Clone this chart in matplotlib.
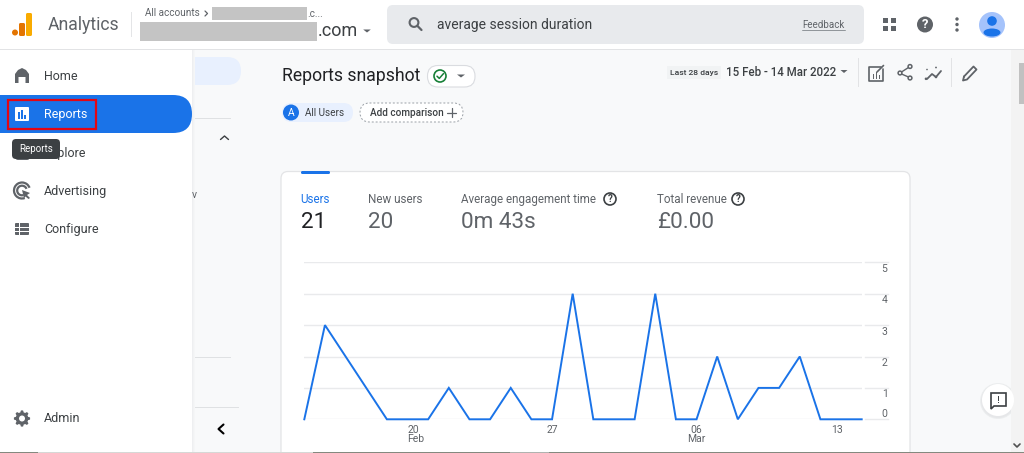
"""
Analytics "Reports snapshot" screen: the users line chart and the page around it.
"""

import numpy as np
import matplotlib
matplotlib.use("Agg")
import matplotlib.pyplot as plt
import matplotlib.patches as pt
from matplotlib.transforms import ScaledTranslation

plt.rcParams['font.family'] = ['Roboto', 'DejaVu Sans']

# chart data
dates = np.arange('2022-02-15', '2022-03-15', dtype='datetime64[D]')
users = [0, 3, 2, 1, 0, 0, 0, 1, 0, 0, 1, 0, 0, 4,
         0, 0, 0, 4, 0, 0, 2, 0, 1, 1, 2, 0, 0, 0]
y_ticks = [0, 1, 2, 3, 4, 5]
x_tick_dates = ['2022-02-20', '2022-02-27', '2022-03-06', '2022-03-13']
x_tick_labels = ['20\nFeb', '27', '06\nMar', '13']

# summary row above the chart
metric_names = ['Users', 'New users', 'Average engagement time', 'Total revenue']
metric_values = ['21', '20', '0m 43s', '£0.00']
metric_x = [300.5, 368, 461, 657]

# side menu
menu_names = ['Home', 'Reports', 'Explore', 'Advertising', 'Configure', 'Admin']
menu_y = [76, 114.5, 153, 191.5, 229.5, 419]

BLUE = '#1a73e8'
GREY = '#5f6368'
DARK = '#3c4043'
LINE = '#e9eaec'

fig = plt.figure(figsize=(10.24, 4.53), dpi=100, facecolor='#f8f9fa')

# one axes in screen pixels for all of the page furniture
ui = fig.add_axes([0, 0, 1, 1], zorder=0)
ui.set_xlim(0, 1024)
ui.set_ylim(453, 0)
ui.axis('off')


def box(x0, y0, x1, y1, color, radius=0, edge='none', lw=0, z=1, ls='-'):
    if radius > 0:
        p = pt.FancyBboxPatch((x0, y0), x1 - x0, y1 - y0,
                              boxstyle='round,pad=0,rounding_size=%s' % radius,
                              facecolor=color, edgecolor=edge, linewidth=lw, zorder=z, linestyle=ls)
    else:
        p = pt.Rectangle((x0, y0), x1 - x0, y1 - y0, facecolor=color, edgecolor=edge,
                         linewidth=lw, zorder=z, linestyle=ls)
    ui.add_patch(p)
    return p


def txt(x, y, s, size, color=DARK, ha='left', z=5, **kw):
    return ui.text(x, y, s, fontsize=size, color=color, ha=ha, va='center', zorder=z, **kw)


def seg(xs, ys, color=GREY, lw=1.0, z=4, **kw):
    ui.plot(xs, ys, color=color, lw=lw, zorder=z, solid_capstyle='round', **kw)


def circle(x, y, r, color, edge='none', lw=0, z=4):
    ui.add_patch(pt.Circle((x, y), r, facecolor=color, edgecolor=edge, linewidth=lw, zorder=z))


def tri(x, y, w=4.0, h=3.5, color=GREY, z=4):
    ui.add_patch(pt.Polygon([(x - w, y - h / 2), (x + w, y - h / 2), (x, y + h / 2)],
                            facecolor=color, edgecolor='none', zorder=z))


def help_icon(x, y, r=6):
    circle(x, y, r, 'white', edge='#3c4043', lw=1.2)
    txt(x, y, '?', 7, color='#3c4043', ha='center', fontweight='bold')


# header
box(0, 0, 1024, 49, 'white', z=1)
box(0, 49, 1024, 50, '#e2e3e5', z=1)
box(19, 23, 25, 36, '#e37400', radius=1.5, z=3)
box(26, 13, 32, 36, '#f9ab00', radius=1.5, z=3)
circle(15, 32.5, 3, '#e37400')
txt(48, 25, 'Analytics', 12.7, color=GREY)
box(131, 12, 132, 37, '#e4e5e7', z=2)
txt(145, 13.5, 'All accounts', 7.2, color=GREY)
seg([205, 207.5, 205], [11, 13.5, 16], lw=0.9)
box(212, 7, 307, 20, '#c4c4c4', z=2)
txt(307.5, 14, '.c...', 7.2, color=GREY)
box(140, 22, 317, 41, '#c4c4c4', z=2)
txt(318, 31.5, '.com', 13.0, color=DARK)
tri(367, 31, w=3.8, h=3)

# search box
box(387, 5, 864, 44, '#e8eaed', radius=6, z=2)
ui.add_patch(pt.Circle((414, 22.5), 4.4, facecolor='none', edgecolor=GREY, linewidth=1.5, zorder=4))
seg([417.5, 421.5], [26, 30], lw=1.6)
txt(437, 24.5, 'average session duration', 10.0, color=DARK)
txt(802, 24.8, 'Feedback', 7.0, color=GREY)
seg([802, 845], [30, 30], lw=0.6, color='#80868b')

# header icons
for gx in (883, 891):
    for gy in (18, 26):
        box(gx, gy, gx + 5, gy + 5, GREY, z=4)
circle(925, 24.5, 8, GREY)
txt(925, 24.5, '?', 9.5, color='white', ha='center', fontweight='bold')
for dy in (19, 24.5, 30):
    circle(957, dy, 1.7, GREY)
circle(992, 25, 13, '#a5c3fb')
circle(992, 21, 4.8, BLUE)
ui.add_patch(pt.Ellipse((992, 32.5), 17, 8, facecolor=BLUE, edgecolor='none', zorder=5))

# content behind the menu
box(150, 57, 241, 85, '#e8f0fe', radius=14, z=1)
box(192, 118, 231, 118.7, '#dfe1e3', z=1)
box(192, 357, 231, 357.7, '#dfe1e3', z=1)
box(192, 407, 239, 407.7, '#dfe1e3', z=1)
seg([220.5, 224.5, 228.5], [139.5, 136, 139.5], color=DARK, lw=1.0)
txt(192, 195, 'v', 7.5, color=GREY)
seg([223.5, 218.5, 223.5], [424.5, 429, 433.5], color='black', lw=1.5)

# side menu
box(0, 50, 192, 453, 'white', z=2)
for i, c in enumerate(['#eeeff1', '#f2f3f4', '#f5f6f7']):
    box(192 + i, 50, 193 + i, 453, c, z=1.5)
box(-30, 95, 192, 133, BLUE, radius=19, z=3)
box(7.5, 99.5, 95.5, 129, 'none', edge='#e30613', lw=1.6, z=6)
for name, my in zip(menu_names, menu_y):
    txt(44, my, name, 9.0, color='white' if name == 'Reports' else DARK)

# menu icons
ui.add_patch(pt.Polygon([(15, 83), (15, 74), (18, 70), (22, 68), (26, 70), (29, 74), (29, 83), (25.5, 83),
                         (25.5, 77), (18.5, 77), (18.5, 83)], facecolor=GREY, edgecolor='none', zorder=4))
box(15, 107, 29, 121, 'white', radius=1, z=4)
for bx, bh in zip((18, 21, 24), (7, 9, 4)):
    box(bx, 118.5 - bh, bx + 1.8, 118.5, BLUE, z=5)
for r in (8, 4.8):
    ui.add_patch(pt.Arc((22, 190.5), 2 * r, 2 * r, angle=0, theta1=70, theta2=340, color=GREY, lw=1.6, zorder=4))
ui.add_patch(pt.Polygon([(22, 190), (30, 193), (27, 195), (30, 198), (28.5, 199), (25.5, 196.5), (24, 198)],
                        facecolor=GREY, edgecolor='none', zorder=5))
box(15, 223, 29, 235, GREY, radius=1, z=4)
for ly in (227, 231):
    box(15, ly, 29, ly + 1, 'white', z=5)
box(19, 223, 20, 235, 'white', z=5)
# gear
ang = np.linspace(0, 2 * np.pi, 97)
rad = 7.2 + 0.9 * np.clip(3 * np.cos(8 * ang), -1, 1)
ui.add_patch(pt.Polygon(np.c_[22 + rad * np.cos(ang), 418.5 + rad * np.sin(ang)],
                        facecolor=GREY, edgecolor='none', zorder=4))
circle(22, 418.5, 3, 'white', z=5)

# tooltip lying over the Explore row, it hides the start of the word
box(15, 146, 30, 160, GREY, radius=3, z=6)
box(12, 139, 60, 159, '#3c4043', radius=4, z=7)
txt(36, 149, 'Reports', 7.0, color='white', ha='center', z=8)

# page title row
txt(282, 76, 'Reports snapshot', 12.7, color='#202124')
box(427.5, 65.5, 475, 87, 'white', radius=10.5, edge='#dadce0', lw=0.8, z=2)
ui.add_patch(pt.Circle((440, 76), 6, facecolor='none', edgecolor='#188038', linewidth=1.2, zorder=4))
seg([437, 439.3, 443.5], [76.2, 78.4, 73.6], color='#188038', lw=1.1)
tri(461, 76, w=4, h=3)
box(282, 103, 353, 122, '#e8f0fe', radius=9.5, z=2)
circle(291, 112.5, 8, BLUE)
txt(291, 112.5, 'A', 7.5, color='white', ha='center')
txt(305, 112.8, 'All Users', 7.2, color=DARK)
box(360, 103, 463, 122, 'white', radius=9.5, edge='#9aa0a6', lw=0.7, ls=(0, (2, 2)), z=2)
txt(369.5, 112.8, 'Add comparison', 7.2, color=DARK, fontweight='medium')
seg([447, 456], [112.5, 112.5], lw=0.9)
seg([451.5, 451.5], [108, 117], lw=0.9)

# date range and its tools
box(667, 66, 721, 79, '#f1f3f4', z=2)
txt(670, 73, 'Last 28 days', 6.1, color=DARK, fontweight='medium')
txt(726, 73, '15 Feb - 14 Mar 2022', 8.3, color=DARK, fontweight='medium')
tri(844, 71.5, w=3.5, h=3)
box(858, 58, 858.8, 87, '#e2e3e5', z=2)
box(951, 58, 951.8, 87, '#e2e3e5', z=2)
seg([881, 869, 869, 883, 883], [66.5, 66.5, 80.5, 80.5, 69], lw=1.2)
seg([877, 883.5], [72, 65.5], lw=1.2)
for bx, bh in zip((872.5, 875.8, 879.1), (5, 7, 4)):
    box(bx, 78.5 - bh, bx + 1.3, 78.5, GREY, z=5)
for nx, ny in ((900, 73), (910, 66.5), (910, 78)):
    circle(nx, ny, 1.9, 'none', edge=GREY, lw=1.1)
seg([901.5, 908.5], [72, 67.5], lw=1.0)
seg([901.5, 908.5], [74, 77], lw=1.0)
seg([927, 932, 936, 941], [79, 74, 77, 71], lw=1.3)
circle(926, 78.8, 1.3, GREY)
circle(936, 77, 1.3, GREY)
circle(927, 69.5, 0.8, GREY)
circle(936, 67.5, 0.9, GREY)
seg([964, 973.5, 976.5, 967, 963, 964], [76.5, 66.5, 69.5, 79.5, 80.5, 76.5], lw=1.3)

# card with the chart
box(281, 171.5, 910, 480, 'white', radius=7, edge='#e3e4e6', lw=0.9, z=1)
box(301, 171, 330, 174, BLUE, radius=1.4, z=3)
for i in range(4):
    txt(metric_x[i], 199.5, metric_names[i], 8.4, color=BLUE if i == 0 else GREY)
    txt(metric_x[i], 222.5, metric_values[i], 16.2, color='#202124' if i == 0 else GREY)
help_icon(610, 199)
help_icon(738, 199)

# feedback button and scrollbar
for r, c in zip((18, 17), ('#eceeef', '#e6e7e9')):
    circle(998, 401, r, c, z=2)
circle(998, 400, 16, 'white', z=3)
ui.add_patch(pt.Polygon([(991, 393), (1006, 393), (1006, 406), (994, 406), (991, 409)], facecolor='none',
                        edgecolor='#3c4043', linewidth=1.2, zorder=4))
box(998, 395.5, 999.2, 400.5, '#3c4043', z=5)
box(998, 402, 999.2, 403.3, '#3c4043', z=5)
box(1011, 50, 1024, 453, '#f3f3f3', z=2)
box(1019, 63, 1024, 104, '#c1c1c1', z=3)
seg([1014, 1017, 1020], [444, 447, 444], color='#505050', lw=1.2)

# window edge along the bottom of the screenshot
box(0, 452, 1024, 453, '#84897f', z=9)
box(38, 452, 313, 453, '#d6d8d6', z=9)
box(510, 452, 549, 453, '#b0b3b0', z=9)

# the chart itself, axes box lined up with the plot area of the card
W, H = 1024.0, 453.0
ax = fig.add_axes([304.3 / W, 1 - 419.3 / H, (861.7 - 304.3) / W, (419.3 - 262.3) / H], zorder=1)
ax.patch.set_visible(False)
ax.set_xlim(dates[0], dates[-1])
ax.set_ylim(0, 5)
for s in ax.spines.values():
    s.set_visible(False)
ax.grid(axis='y', color=LINE, lw=1.0)
ax.set_axisbelow(True)
ax.plot(dates, users, color=BLUE, lw=1.4, clip_on=False, solid_joinstyle='miter', zorder=3)

# gridlines carry on past a small gap under the labels
for v in y_ticks:
    ax.plot([1.0058, 1.0475], [v, v], transform=ax.get_yaxis_transform(), color=LINE, lw=1.0, clip_on=False)

ax.yaxis.tick_right()
ax.set_yticks(y_ticks)
ax.tick_params(axis='y', length=0, pad=18.6, labelsize=7.5, labelcolor=GREY)
down = ScaledTranslation(0, -1.5 / 100, fig.dpi_scale_trans)
for lab, v in zip(ax.get_yticklabels(), y_ticks):
    lab.set_ha('right')
    lab.set_va('bottom' if v == 0 else 'top')
    if v != 0:
        lab.set_transform(lab.get_transform() + down)

ax.set_xticks([np.datetime64(d) for d in x_tick_dates])
ax.set_xticklabels(x_tick_labels, fontsize=7.5, color=GREY, linespacing=0.95)
ax.tick_params(axis='x', length=0, pad=4)
# the labels are not all centred under their day in the reference
xlabs = ax.get_xticklabels()
xlabs[0].set_ha('left')
xlabs[0].set_multialignment('left')
xlabs[3].set_transform(xlabs[3].get_transform() + ScaledTranslation(-4.5 / 100, 0, fig.dpi_scale_trans))

fig.savefig('out.png', dpi=100, facecolor=fig.get_facecolor())
